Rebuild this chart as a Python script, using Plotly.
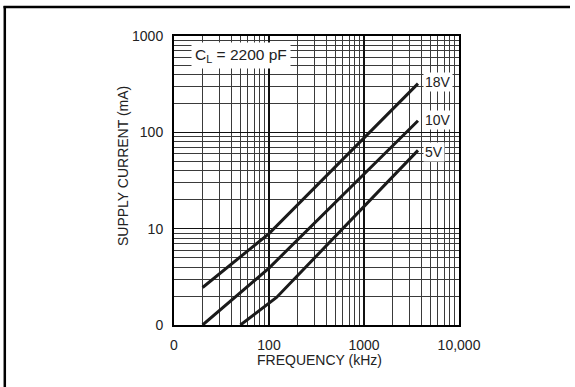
import plotly.graph_objects as go

# Data
freq_18v = [20, 100, 3700]
curr_18v = [2.45, 8.9, 320]
freq_10v = [20, 100, 3700]
curr_10v = [1.0, 3.9, 132]
freq_5v = [50, 120, 3700]
curr_5v = [1.0, 1.93, 65]

x_tickvals = [10, 100, 1000, 10000]
x_ticktext = ["0", "100", "1000", "10,000"]
y_tickvals = [1, 10, 100, 1000]
y_ticktext = ["0", "10", "100", "1000"]

series_labels = ["18V", "10V", "5V"]

W, H = 575, 387
L, R, T, B = 174, 459, 36, 325
FONT = "Liberation Sans, Arial, Helvetica, sans-serif"


def px_x(x):
    return (x - L) / (R - L)


def px_y(y):
    return (B - y) / (B - T)


fig = go.Figure()
for fx, cy in [(freq_18v, curr_18v), (freq_10v, curr_10v), (freq_5v, curr_5v)]:
    fig.add_trace(go.Scatter(x=fx, y=cy, mode="lines",
                             line=dict(color="#1a1a1a", width=3),
                             showlegend=False, hoverinfo="skip"))

axis_common = dict(
    type="log",
    showline=True, linecolor="black", linewidth=2, mirror=True,
    showgrid=True, gridcolor="#111111", gridwidth=1.4,
    ticks="", zeroline=False,
    tickfont=dict(family=FONT, size=14, color="#222222"),
    minor=dict(showgrid=True, gridcolor="#3a3a3a", gridwidth=1, dtick="D1", ticks=""),
)

fig.update_xaxes(range=[1, 4], tickvals=x_tickvals, ticktext=x_ticktext,
                 ticklabelstandoff=6, **axis_common)
fig.update_yaxes(range=[0, 3], tickvals=y_tickvals, ticktext=y_ticktext,
                 ticklabelstandoff=6, **axis_common)

annotations = [
    dict(text="SUPPLY CURRENT (mA)", x=px_x(123), y=px_y(166), xref="paper", yref="paper",
         textangle=-90, showarrow=False, font=dict(family=FONT, size=14, color="#222222"),
         xanchor="center", yanchor="middle"),
    dict(text="FREQUENCY (kHz)", x=px_x(319), y=px_y(360), xref="paper", yref="paper",
         showarrow=False, font=dict(family=FONT, size=14, color="#222222"),
         xanchor="center", yanchor="middle"),
    dict(text="C<sub>L</sub> = 2200 pF", x=px_x(241), y=px_y(55), xref="paper", yref="paper",
         showarrow=False, bgcolor="white", borderpad=3,
         font=dict(family=FONT, size=15.5, color="#222222"),
         xanchor="center", yanchor="middle"),
]
label_pos = [(423, 82), (423, 120), (423, 152)]
for lab, (lx, ly) in zip(series_labels, label_pos):
    annotations.append(dict(text=lab, x=px_x(lx), y=px_y(ly), xref="paper", yref="paper",
                            showarrow=False, bgcolor="white", borderpad=1,
                            font=dict(family=FONT, size=14, color="#222222"),
                            xanchor="left", yanchor="middle"))

shapes = [
    dict(type="line", xref="paper", yref="paper", x0=px_x(3.5), x1=px_x(570),
         y0=px_y(7), y1=px_y(7), line=dict(color="black", width=2.5)),
    dict(type="line", xref="paper", yref="paper", x0=px_x(4.8), x1=px_x(4.8),
         y0=px_y(6), y1=px_y(390), line=dict(color="black", width=2.5)),
]

fig.update_layout(
    width=W, height=H,
    margin=dict(l=L, r=W - R, t=T, b=H - B, autoexpand=False),
    paper_bgcolor="white", plot_bgcolor="white",
    annotations=annotations, shapes=shapes,
    font=dict(family=FONT),
)

fig.write_html("out.html",
               config={"displayModeBar": False, "staticPlot": True},
               post_script="document.body.style.margin='0px';document.body.style.overflow='hidden';")
